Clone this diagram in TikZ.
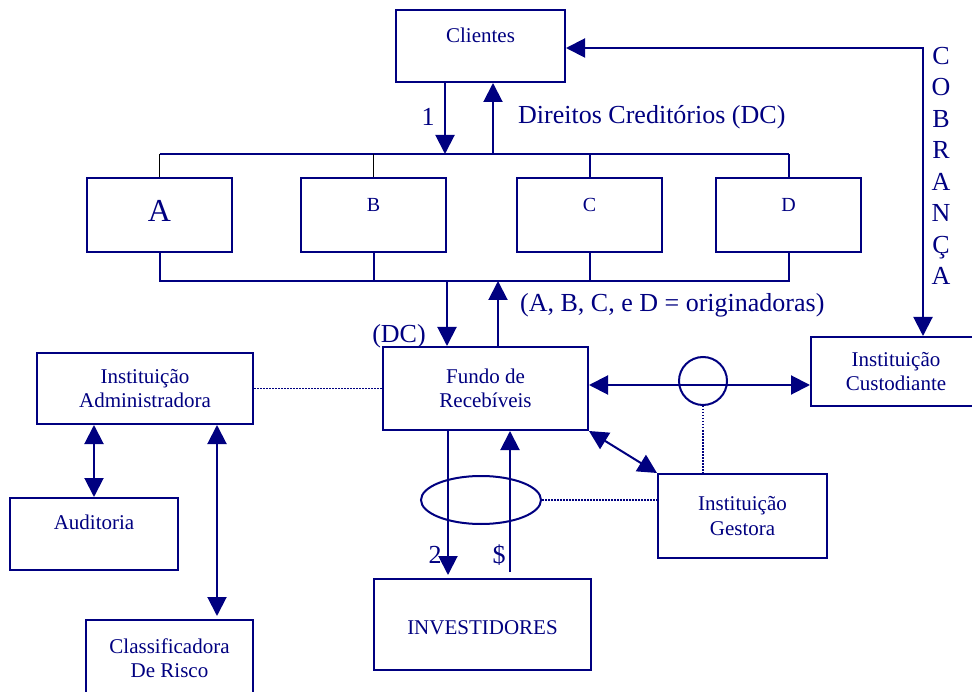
\documentclass[tikz,border=0pt]{standalone}
\usepackage{fontspec}
\setmainfont{Liberation Serif}
\usetikzlibrary{arrows.meta,shapes.geometric}
\definecolor{navy}{RGB}{0,0,128}
\tikzset{
  box/.style={draw=navy, line width=2pt, text=navy, inner sep=0pt, font=\fontsize{21}{24.5}\selectfont},
  box2/.style={box, align=center},
  big/.style={text=navy, inner sep=0pt, font=\fontsize{26}{31.5}\selectfont},
  wire/.style={draw=navy, line width=2pt},
  stub/.style={draw=black, line width=1.5pt},
  arr/.style={wire, -{Triangle[length=19pt,width=19pt]}},
  darr/.style={wire, {Triangle[length=19pt,width=19pt]}-{Triangle[length=19pt,width=19pt]}},
  dot/.style={draw=navy, line width=1.5pt, dash pattern=on 1.5pt off 1.5pt},
}
\begin{document}
\begin{tikzpicture}[x=1pt,y=-1pt]
    \useasboundingbox (0,0) rectangle (972,692);
    % caixas
    \node[box, minimum width=169pt, minimum height=72pt, text depth=22pt] (cli) at (480.5,46) {Clientes};
    \node[box, minimum width=145pt, minimum height=74pt, text depth=8pt, font=\fontsize{32}{36}\selectfont] (A) at (159.5,215) {A};
    \node[box, minimum width=145pt, minimum height=74pt, text depth=20pt, font=\fontsize{20}{24}\selectfont] (B) at (373.5,215) {B};
    \node[box, minimum width=145pt, minimum height=74pt, text depth=20pt, font=\fontsize{20}{24}\selectfont] (C) at (589.5,215) {C};
    \node[box, minimum width=145pt, minimum height=74pt, text depth=20pt, font=\fontsize{20}{24}\selectfont] (D) at (788.5,215) {D};
    \node[box2, minimum width=205pt, minimum height=83pt] (fundo) at (485.5,388.5) {Fundo de\\Recebíveis};
    \node[box2, minimum width=170pt, minimum height=69pt] (cust) at (896,371.5) {Instituição\\Custodiante};
    \node[box2, minimum width=169pt, minimum height=84pt] (gest) at (742.5,516) {Instituição\\Gestora};
    \node[box, minimum width=217pt, minimum height=91pt, text height=21pt] (inv) at (482.5,624.5) {INVESTIDORES};
    \node[box2, minimum width=216pt, minimum height=71pt] (adm) at (145,388.5) {Instituição\\Administradora};
    \node[box, minimum width=168pt, minimum height=72pt, text depth=24pt] (aud) at (94,534) {Auditoria};
    \node[box2, minimum width=167pt, minimum height=76pt] (cls) at (169.5,658) {Classificadora\\De Risco};
    \node[circle, draw=navy, line width=2pt, minimum size=48pt, inner sep=0pt] (ring) at (703,381) {};
    \node[ellipse, draw=navy, line width=2pt, minimum width=120pt, minimum height=48pt, inner sep=0pt] (oval) at (481,500) {};
    % pontos de passagem
    \coordinate (t1) at (445,154);
    \coordinate (t2) at (493,154);
    \coordinate (b1) at (447,281);
    \coordinate (b2) at (498,281);
    \coordinate (h) at (0,385);
    \coordinate (v2) at (448,0);
    \coordinate (vs) at (510,0);
    \coordinate (vr) at (217,0);
    \coordinate (cob) at (923,48);
    % barramentos das originadoras
    \draw[wire] (A.north |- t1) -- (D.north |- t1);
    \draw[stub] (A.north) -- (A.north |- t1);
    \draw[stub] (B.north) -- (B.north |- t1);
    \draw[wire] (C.north) -- (C.north |- t1);
    \draw[wire] (D.north) -- (D.north |- t1);
    \draw[wire] (A.south) -- (A.south |- b1) -- (D.south |- b1) -- (D.south);
    \draw[wire] (B.south) -- (B.south |- b1);
    \draw[wire] (C.south) -- (C.south |- b1);
    % setas
    \draw[arr] (cli.south -| t1) -- (t1);
    \draw[arr] (t2) -- (cli.south -| t2);
    \draw[arr] (b1) -- (fundo.north -| b1);
    \draw[arr] (fundo.north -| b2) -- (b2);
    \draw[darr] (fundo.east |- h) -- (cust.west |- h);
    \draw[darr] (fundo.south east) -- (gest.north west);
    \draw[arr, shorten >=3pt] (fundo.south -| v2) -- (inv.north -| v2);
    \draw[arr, shorten <=6pt] (inv.north -| vs) -- (fundo.south -| vs);
    \draw[darr] (adm.south -| aud.north) -- (aud.north);
    \draw[darr, shorten >=3pt] (adm.south -| vr) -- (cls.north -| vr);
    \draw[darr] (cli.east |- cob) -- (cob) -- (cob |- cust.north);
    % ligacoes pontilhadas
    \draw[dot] (adm.east) -- (adm.east -| fundo.west);
    \draw[dot] (ring.south) -- (ring.south |- gest.north);
    \draw[dot] (oval.east) -- (oval.east -| gest.west);
    % rotulos
    \node[big] (one) at (428,117) {1};
    \node[big, anchor=west] (dc) at (518,117) {Direitos Creditórios (DC)};
    \node[big, anchor=west] (orig) at (520,305) {(A, B, C, e D = originadoras)};
    \node[big] (dc2) at (399,336) {(DC)};
    \node[big] (two) at (435,555) {2};
    \node[big] (cash) at (499,555) {\$};
    \node[big, align=center] (cobr) at (941,166) {C\\O\\B\\R\\A\\N\\Ç\\A};
\end{tikzpicture}
\end{document}
